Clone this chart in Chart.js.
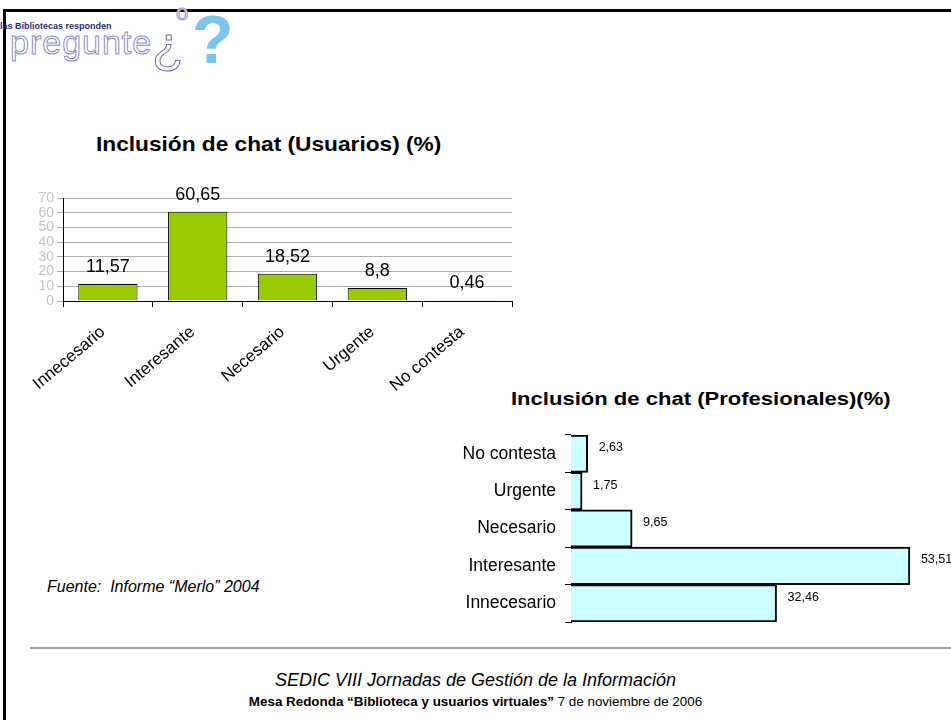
<!DOCTYPE html>
<html>
<head>
<meta charset="utf-8">
<script src="https://cdn.jsdelivr.net/npm/chart.js@4"></script>
<style>
  body { margin: 0; background: #fff; font-family: 'Liberation Sans', Arial, sans-serif; }
  #page { position: relative; width: 951px; height: 720px; overflow: hidden; background: #fff; }
  .abs { position: absolute; white-space: nowrap; }
  .wide { transform-origin: 0 0; }
  #frameTop { left: 3px; top: 9px; width: 948px; height: 3px; background: #000; }
  #frameLeft { left: 3px; top: 9px; width: 3px; height: 711px; background: #000; }
  #rule { left: 30px; top: 647px; width: 921px; height: 2px; background: #9999cc; }
  canvas { position: absolute; }
</style>
</head>
<body>
<div id="page">
  <div class="abs" id="frameTop"></div>
  <div class="abs" id="frameLeft"></div>

  <!-- logo -->
  <div class="abs" style="left:0;top:21px;font-size:9px;font-weight:bold;color:#1f2f7f;">las Bibliotecas responden</div>
  <div class="abs" style="left:10px;top:23px;font-size:34px;letter-spacing:1px;color:#fff;-webkit-text-stroke:1px #8c8cc8;">pregunte</div>
  <div class="abs" style="left:176px;top:0px;font-size:22px;color:#fff;-webkit-text-stroke:1px #8c8cc8;">o</div>
  <div class="abs" style="left:152px;top:14px;font-size:52px;color:#fff;-webkit-text-stroke:1px #6f6fb8;">¿</div>
  <div class="abs" style="left:192px;top:0px;font-size:68px;font-weight:bold;color:#7cc4ec;">?</div>

  <div class="abs wide" style="left:96px;top:132px;font-size:21px;font-weight:bold;transform:scaleX(1.08);">Inclusión de chat (Usuarios) (%)</div>
  <div class="abs wide" style="left:511px;top:388px;font-size:19px;font-weight:bold;transform:scaleX(1.16);">Inclusión de chat (Profesionales)(%)</div>
  <div class="abs" style="left:47px;top:578px;font-size:16px;font-style:italic;">Fuente:&nbsp; Informe “Merlo” 2004</div>

  <div class="abs" id="rule"></div>
  <div class="abs" style="left:0;width:951px;text-align:center;top:670px;font-size:18px;font-style:italic;">SEDIC VIII Jornadas de Gestión de la Información</div>
  <div class="abs" style="left:0;width:951px;text-align:center;top:694px;font-size:13.4px;"><b>Mesa Redonda “Biblioteca y usuarios virtuales”</b> 7 de noviembre de 2006</div>

  <canvas id="usuarios" width="500" height="230" style="left:20px;top:180px;"></canvas>
  <canvas id="profesionales" width="511" height="210" style="left:440px;top:425px;"></canvas>
</div>

<script>
const categories = ['Innecesario', 'Interesante', 'Necesario', 'Urgente', 'No contesta'];
const usuarios = [11.57, 60.65, 18.52, 8.8, 0.46];
const profesionales = [32.46, 53.51, 9.65, 1.75, 2.63];
const usuariosTicks = [0, 10, 20, 30, 40, 50, 60, 70];

const FONT = "'Liberation Sans', Arial, sans-serif";

function fmt(v) {
  return String(v).replace('.', ',');
}

// draws the value next to each bar
const valueLabels = {
  id: 'valueLabels',
  afterDatasetsDraw(chart, args, opts) {
    const ctx = chart.ctx;
    const meta = chart.getDatasetMeta(0);
    const data = chart.data.datasets[0].data;
    ctx.save();
    ctx.fillStyle = '#000';
    ctx.font = opts.size + 'px ' + FONT;
    ctx.textBaseline = 'middle';
    meta.data.forEach((bar, i) => {
      if (opts.horizontal) {
        ctx.textAlign = 'left';
        ctx.fillText(fmt(data[i]), bar.x + 11, bar.y - 6);
      } else {
        ctx.textAlign = 'center';
        ctx.fillText(fmt(data[i]), bar.x, bar.y - 17);
      }
    });
    ctx.restore();
  }
};

Chart.defaults.font.family = FONT;
Chart.defaults.animation = false;

new Chart(document.getElementById('usuarios'), {
  type: 'bar',
  data: {
    labels: categories,
    datasets: [{
      data: usuarios,
      backgroundColor: '#99cc00',
      borderColor: '#000',
      borderWidth: 1,
      barPercentage: 0.66,
      categoryPercentage: 1
    }]
  },
  options: {
    responsive: false,
    layout: { padding: { top: 18, right: 8, bottom: 0, left: 0 } },
    plugins: {
      legend: { display: false },
      tooltip: { enabled: false },
      valueLabels: { size: 18 }
    },
    scales: {
      x: {
        grid: { display: true, drawOnChartArea: false, color: '#000', tickLength: 6 },
        border: { color: '#000', width: 1 },
        ticks: { color: '#000', font: { size: 17 }, minRotation: 40, maxRotation: 40, padding: 15, labelOffset: -5, autoSkip: false },
        afterFit: s => { s.height = 109; }
      },
      y: {
        min: 0,
        max: 70,
        afterBuildTicks: s => { s.ticks = usuariosTicks.map(v => ({ value: v })); },
        grid: { color: '#b0b0b0', tickLength: 6 },
        border: { color: '#000', width: 1 },
        ticks: { color: '#c4c4c4', font: { size: 14 }, padding: 3, autoSkip: false },
        afterFit: s => { s.width = 43; }
      }
    }
  },
  plugins: [valueLabels]
});

new Chart(document.getElementById('profesionales'), {
  type: 'bar',
  data: {
    labels: categories,
    datasets: [{
      data: profesionales,
      backgroundColor: '#ccffff',
      borderColor: '#000',
      borderWidth: 2,
      barPercentage: 1,
      categoryPercentage: 1
    }]
  },
  options: {
    indexAxis: 'y',
    responsive: false,
    layout: { padding: { top: 10, right: 0, bottom: 13, left: 0 } },
    plugins: {
      legend: { display: false },
      tooltip: { enabled: false },
      valueLabels: { size: 12.5, horizontal: true }
    },
    scales: {
      x: { display: false, min: 0, max: 60 },
      y: {
        reverse: true,
        grid: { display: true, drawOnChartArea: false, color: '#000', tickLength: 6 },
        border: { color: '#000', width: 1 },
        ticks: { color: '#000', font: { size: 17.5 }, padding: 9, autoSkip: false },
        afterFit: s => {
          s.width = 131;
          s.paddingTop = 0;
          s.paddingBottom = 0;
        }
      }
    }
  },
  plugins: [valueLabels]
});
</script>
</body>
</html>
